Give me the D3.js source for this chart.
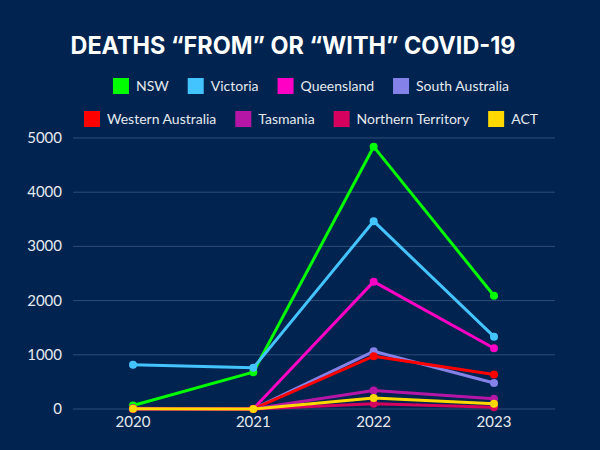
<!DOCTYPE html>
<html>
<head>
<meta charset="utf-8">
<script src="https://cdn.jsdelivr.net/npm/d3@7"></script>
<style>
  body { margin: 0; background: #00244f; }
  svg { display: block; }
</style>
</head>
<body>
<svg id="chart"></svg>
<script>
// data
const years = ["2020", "2021", "2022", "2023"];
const states = ["NSW", "Victoria", "Queensland", "South Australia",
                "Western Australia", "Tasmania", "Northern Territory", "ACT"];
const colors = ["#00ff00", "#44c4ff", "#ff00c4", "#8482e8",
                "#ff0000", "#b616a6", "#d6005e", "#ffd800"];
const nsw = [65, 680, 4840, 2090];
const victoria = [815, 760, 3465, 1335];
const queensland = [6, 3, 2350, 1120];
const southAustralia = [4, 1, 1065, 480];
const westernAustralia = [9, 1, 975, 635];
const tasmania = [13, 1, 340, 190];
const northernTerritory = [0, 0, 95, 30];
const act = [3, 1, 205, 95];
const yTicks = [0, 1000, 2000, 3000, 4000, 5000];

const series = [nsw, victoria, queensland, southAustralia,
                westernAustralia, tasmania, northernTerritory, act];

var width = 600, height = 450;
var titleFont = "Inter, 'Noto Sans', sans-serif";
var font = "Lato, 'Noto Sans', sans-serif";

var svg = d3.select("#chart")
    .attr("width", width)
    .attr("height", height);

svg.append("rect")
    .attr("width", width).attr("height", height)
    .attr("fill", "#00244f");

// title
svg.append("text")
    .attr("x", 293)
    .attr("y", 54)
    .attr("text-anchor", "middle")
    .attr("textLength", 445)
    .attr("lengthAdjust", "spacingAndGlyphs")
    .style("font-family", titleFont)
    .style("font-weight", "700")
    .style("font-size", "24px")
    .attr("fill", "#ffffff")
    .text("DEATHS \u201CFROM\u201D OR \u201CWITH\u201D COVID-19");

// scales
var x = d3.scalePoint().domain(years).range([133, 494]);
var y = d3.scaleLinear().domain([0, 5000]).range([409, 138]);

// gridlines
svg.append("g")
    .selectAll("line")
    .data(yTicks)
    .enter()
    .append("line")
    .attr("x1", 73).attr("x2", 555)
    .attr("y1", d => y(d)).attr("y2", d => y(d))
    .attr("stroke", "#2f4c78")
    .attr("stroke-width", 1);

// y labels
svg.append("g")
    .selectAll("text")
    .data(yTicks)
    .enter()
    .append("text")
    .attr("x", 62)
    .attr("y", d => y(d) + 5)
    .attr("text-anchor", "end")
    .style("font-family", font)
    .style("font-size", "15px")
    .attr("fill", "#e6e9f0")
    .text(d => d);

// x labels
svg.append("g")
    .selectAll("text")
    .data(years)
    .enter()
    .append("text")
    .attr("x", d => x(d))
    .attr("y", 427)
    .attr("text-anchor", "middle")
    .style("font-family", font)
    .style("font-size", "15px")
    .attr("fill", "#e6e9f0")
    .text(d => d);

// lines and dots
var line = d3.line()
    .x((d, i) => x(years[i]))
    .y(d => y(d));

series.forEach((vals, k) => {
    var g = svg.append("g");
    g.append("path")
        .datum(vals)
        .attr("fill", "none")
        .attr("stroke", colors[k])
        .attr("stroke-width", 3)
        .attr("stroke-linejoin", "round")
        .attr("d", line);
    g.selectAll("circle")
        .data(vals)
        .enter()
        .append("circle")
        .attr("cx", (d, i) => x(years[i]))
        .attr("cy", d => y(d))
        .attr("r", 4)
        .attr("fill", colors[k]);
});

// legend, two centred rows
var rows = [[0, 1, 2, 3], [4, 5, 6, 7]];
var rowY = [78, 111];
var gap = 19;
rows.forEach((row, r) => {
    var lg = svg.append("g");
    var cursor = 0;
    row.forEach(k => {
        var item = lg.append("g").attr("transform", "translate(" + cursor + ",0)");
        item.append("rect")
            .attr("width", 16).attr("height", 16)
            .attr("fill", colors[k]);
        var t = item.append("text")
            .attr("x", 23)
            .attr("y", 13)
            .style("font-family", font)
            .style("font-size", "14px")
            .attr("fill", "#e6e9f0")
            .text(states[k]);
        cursor += 23 + t.node().getComputedTextLength() + gap;
    });
    var total = cursor - gap;
    lg.attr("transform", "translate(" + (311 - total / 2) + "," + rowY[r] + ")");
});
</script>
</body>
</html>
